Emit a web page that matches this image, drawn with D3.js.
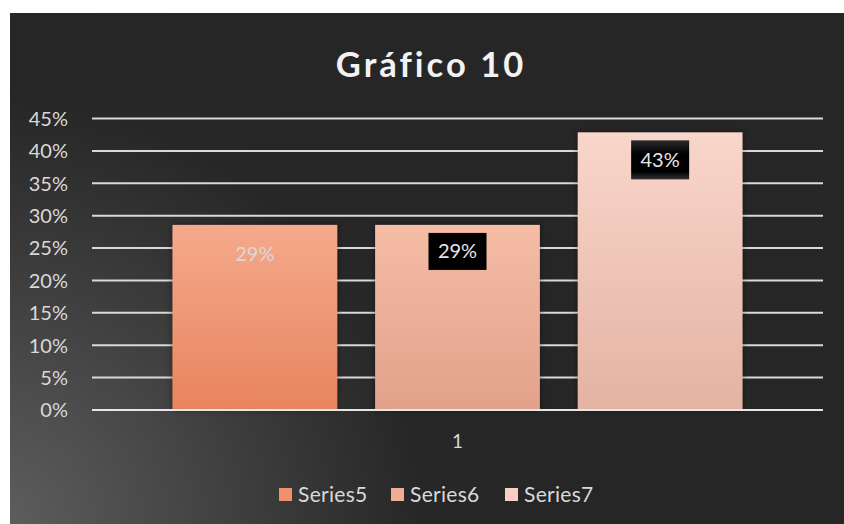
<!DOCTYPE html>
<html><head><meta charset="utf-8">
<script src="https://cdn.jsdelivr.net/npm/d3@7"></script>
<style>body{margin:0;background:#fff}svg{display:block}text{font-family:Lato,"Open Sans",sans-serif}</style>
</head><body>
<svg id="c" width="844" height="524"></svg>
<script>
const categories = ["1"];
const seriesNames = ["Series5","Series6","Series7"];
const seriesValues = [0.2857, 0.2857, 0.4286];
const tickValues = [0,0.05,0.10,0.15,0.20,0.25,0.30,0.35,0.40,0.45];
const title = "Gráfico 10";

(function(){
const svg = d3.select("#c");
const defs = svg.append("defs");
const bg = defs.append("radialGradient").attr("id","bg").attr("gradientUnits","userSpaceOnUse")
  .attr("cx",0).attr("cy",524).attr("r",560);
bg.append("stop").attr("offset","0").attr("stop-color","#5e5e5e");
bg.append("stop").attr("offset","0.75").attr("stop-color","#272727");
bg.append("stop").attr("offset","1").attr("stop-color","#262626");
svg.append("rect").attr("x",10).attr("y",13).attr("width",834).attr("height",511).attr("fill","url(#bg)");

const grads = [["#f5aa8b","#e7845e"],["#f5bca6","#e2a18a"],["#f9d6ca","#e3b3a3"]];
const swatch = ["#f0916a","#f2ac94","#f8cfc1"];
grads.forEach((g,i)=>{
  const lg = defs.append("linearGradient").attr("id","g"+i).attr("x1",0).attr("y1",0).attr("x2",0).attr("y2",1);
  lg.append("stop").attr("offset","0").attr("stop-color",g[0]);
  lg.append("stop").attr("offset","1").attr("stop-color",g[1]);
});
const sh = defs.append("filter").attr("id","sh").attr("x","-10%").attr("y","-10%").attr("width","120%").attr("height","120%");
sh.append("feDropShadow").attr("dx",0).attr("dy",0).attr("stdDeviation",3).attr("flood-color","#000").attr("flood-opacity",0.45);
const lb = defs.append("linearGradient").attr("id","lb").attr("x1",0).attr("y1",0).attr("x2",0).attr("y2",1);
lb.append("stop").attr("offset","0").attr("stop-color","#2a2a2a");
lb.append("stop").attr("offset","0.35").attr("stop-color","#000");
lb.append("stop").attr("offset","0.8").attr("stop-color","#000");
lb.append("stop").attr("offset","1").attr("stop-color","#333");

const pL=92, pR=823, pT=118.5, pB=410;
const y = d3.scaleLinear().domain([0,0.45]).range([pB,pT]);
const x0 = d3.scaleBand().domain(categories).range([pL,pR]).paddingInner(0).paddingOuter(0.1412);
const x1 = d3.scaleBand().domain(seriesNames).range([0,x0.bandwidth()]).paddingInner(0.187).paddingOuter(0);

svg.append("text").attr("x",431).attr("y",77).attr("text-anchor","middle")
  .attr("fill","#f2f2f2").attr("font-size",34.5).attr("font-weight","bold").attr("letter-spacing",3).text(title);

svg.append("g").selectAll("line").data(tickValues).join("line")
  .attr("x1",pL).attr("x2",pR).attr("y1",d=>y(d)).attr("y2",d=>y(d))
  .attr("stroke",d=>d===0?"#e6e6e6":"#d9d9d9").attr("stroke-width",2);

const yAxis = d3.axisLeft(y).tickValues(tickValues).tickFormat(d3.format(".0%")).tickSize(0).tickPadding(0);
const ga = svg.append("g").attr("transform","translate(68,0)").call(yAxis);
ga.select(".domain").remove();
ga.selectAll("text").attr("fill","#d9d9d9").attr("font-size",20).attr("font-family","Lato,sans-serif").attr("dy","0.34em");

const bars = svg.append("g");
seriesNames.forEach((s,i)=>{
  const bx = x0(categories[0]) + x1(s);
  bars.append("rect").attr("x",bx).attr("y",y(seriesValues[i])).attr("width",x1.bandwidth())
    .attr("height",y(0)-y(seriesValues[i])).attr("fill","url(#g"+i+")").attr("filter","url(#sh)");
});
svg.append("line").attr("x1",pL).attr("x2",pR).attr("y1",y(0)).attr("y2",y(0)).attr("stroke","#e6e6e6").attr("stroke-width",2);

const fmt = d3.format(".0%");
seriesNames.forEach((s,i)=>{
  const cx = x0(categories[0]) + x1(s) + x1.bandwidth()/2;
  const ty = y(seriesValues[i]) + 29;
  if(i>0){
    const w = 58, h = i===2?39:37;
    const by = i===2? y(seriesValues[i])+8 : y(seriesValues[i])+8;
    svg.append("rect").attr("x",cx-w/2).attr("y",by).attr("width",w).attr("height",h)
      .attr("fill",i===2?"url(#lb)":"#000");
    svg.append("text").attr("x",cx).attr("y",by+h/2).attr("dy","0.35em").attr("text-anchor","middle")
      .attr("fill","#e6e6e6").attr("font-size",20).text(fmt(seriesValues[i]));
  } else {
    svg.append("text").attr("x",cx).attr("y",ty).attr("dy","0.35em").attr("text-anchor","middle")
      .attr("fill","#d9d9d9").attr("font-size",20).text(fmt(seriesValues[i]));
  }
});

svg.append("text").attr("x",x0(categories[0])+x0.bandwidth()/2).attr("y",441).attr("dy","0.35em")
  .attr("text-anchor","middle").attr("fill","#d9d9d9").attr("font-size",19).text(categories[0]);

const legX = [279, 391, 505];
seriesNames.forEach((s,i)=>{
  svg.append("rect").attr("x",legX[i]).attr("y",488).attr("width",13).attr("height",13).attr("fill",swatch[i]);
  svg.append("text").attr("x",legX[i]+19).attr("y",494.5).attr("dy","0.35em").attr("fill","#d9d9d9")
    .attr("font-size",21).attr("letter-spacing",0.3).text(s);
});
})();
</script>
</body></html>
